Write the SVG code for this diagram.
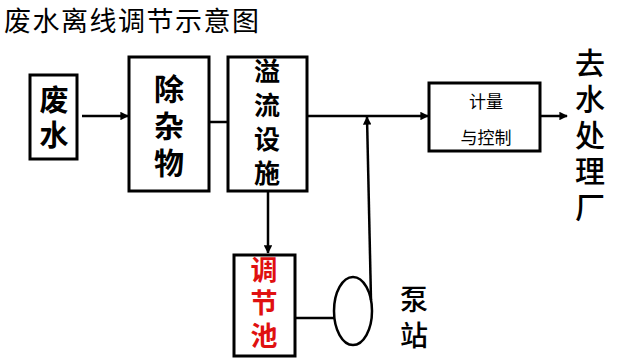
<svg xmlns="http://www.w3.org/2000/svg" width="618" height="360" viewBox="0 0 618 360">
<defs>
<style>
.box{fill:#fff;stroke:#000;stroke-width:3}
.ln{fill:none;stroke:#000;stroke-width:2.5}
.t{font-family:"Noto Sans CJK SC","Noto Sans CJK TC",sans-serif;fill:#000;text-anchor:middle;dominant-baseline:central}
.v{font-family:"Noto Sans CJK SC","Noto Sans CJK TC",sans-serif;fill:#000;writing-mode:vertical-rl;text-anchor:start}
.b{font-weight:700}
.m{font-weight:500}
.red{fill:#e01010}
</style>
<marker id="ah" viewBox="0 0 10 10" refX="9" refY="5" markerWidth="3.4" markerHeight="3.4" orient="auto" markerUnits="strokeWidth">
<path d="M0,0 L10,5 L0,10 z" fill="#000"/>
</marker>
</defs>
<rect width="618" height="360" fill="#fff"/>
<text x="4" y="19" font-family="Noto Sans CJK SC, sans-serif" font-size="27" letter-spacing="1.5" dominant-baseline="central" fill="#000">废水离线调节示意图</text>
<g id="connectors">
<line class="ln" x1="82" y1="116" x2="128" y2="116" marker-end="url(#ah)"/>
<line class="ln" x1="209" y1="122" x2="228" y2="122"/>
<line class="ln" x1="307" y1="116" x2="428" y2="116" marker-end="url(#ah)"/>
<line class="ln" x1="540" y1="116" x2="567" y2="116" marker-end="url(#ah)"/>
<line class="ln" x1="268" y1="191" x2="268" y2="253" marker-end="url(#ah)"/>
<line class="ln" x1="295" y1="318" x2="334" y2="318"/>
<line class="ln" x1="371" y1="300" x2="367" y2="117" marker-end="url(#ah)"/>
</g>
<g id="n-feishui">
<rect class="box" x="30" y="75" width="47" height="84"/>
<text class="v b" x="54" y="85.5" font-size="29" letter-spacing="6">废水</text>
</g>
<g id="n-chuzawu">
<rect class="box" x="129" y="57" width="80" height="134"/>
<text class="v b" x="169" y="74" font-size="30" letter-spacing="7">除杂物</text>
</g>
<g id="n-yiliu">
<rect class="box" x="228" y="57" width="79" height="134"/>
<text class="v b" x="267" y="58" font-size="26" letter-spacing="8">溢流设施</text>
</g>
<g id="n-jiliang">
<rect class="box" x="429" y="83" width="111" height="68"/>
<text class="t" x="486" y="100" font-size="17">计量</text>
<text class="t" x="486" y="136" font-size="17">与控制</text>
</g>
<g id="n-out">
<text class="v m" x="590" y="48" font-size="30" letter-spacing="6">去水处理厂</text>
</g>
<g id="n-tiaojiechi">
<rect class="box" x="234" y="255" width="61" height="101"/>
<text class="v b red" x="264" y="256.5" font-size="27" letter-spacing="6">调节池</text>
</g>
<g id="n-pump">
<ellipse cx="353" cy="311" rx="19" ry="34" fill="none" stroke="#000" stroke-width="2.5"/>
<text class="v m" x="414" y="285" font-size="28" letter-spacing="8">泵站</text>
</g>
</svg>
